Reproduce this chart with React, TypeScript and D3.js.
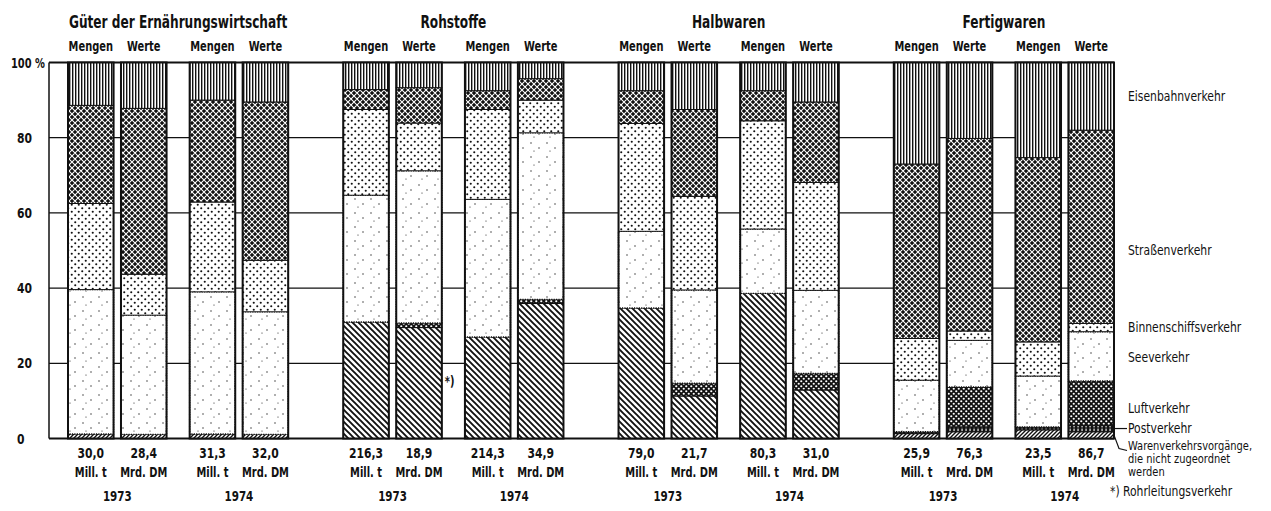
import React from "react";
import * as d3 from "d3";

const groups = ["Güter der Ernährungswirtschaft", "Rohstoffe", "Halbwaren", "Fertigwaren"];
const years = ["1973", "1974"];
const kinds = ["Mengen", "Werte"];
const units = ["Mill. t", "Mrd. DM"];
const totals = ["30,0", "28,4", "31,3", "32,0", "216,3", "18,9", "214,3", "34,9", "79,0", "21,7", "80,3", "31,0", "25,9", "76,3", "23,5", "86,7"];

// shares in %, bar order: group -> year -> kind
const waren = [1.2, 1.1, 1.2, 1.1, 0, 0, 0, 0, 0, 0, 0, 0, 1.3, 1.8, 2.3, 1.8];
const rohr = [0, 0, 0, 0, 31.0, 29.5, 27.0, 35.9, 34.7, 11.3, 38.6, 12.9, 0, 0, 0, 0];
const post = [0, 0, 0, 0, 0, 0, 0, 0, 0, 0, 0, 0, 0.5, 1.3, 0.8, 1.7];
const luft = [0, 0, 0, 0, 0, 1.2, 0, 1.1, 0, 3.4, 0, 4.4, 0, 10.6, 0, 11.8];
const see = [38.4, 31.7, 37.8, 32.6, 33.7, 40.5, 36.6, 44.3, 20.4, 24.8, 17.1, 22.1, 13.7, 12.4, 13.5, 13.1];
const binnen = [22.9, 10.9, 23.9, 13.7, 22.8, 12.7, 23.9, 8.7, 28.7, 24.9, 28.8, 28.7, 11.1, 2.5, 9.1, 2.2];
const strasse = [26.1, 44.1, 27.1, 42.1, 5.3, 9.4, 5.0, 5.7, 8.7, 23.1, 8.0, 21.4, 46.4, 51.2, 49.0, 51.4];
const eisenbahn = [11.4, 12.2, 10.0, 10.5, 7.2, 6.7, 7.5, 4.3, 7.5, 12.5, 7.5, 10.5, 27.0, 20.2, 25.3, 18.0];

const seriesKeys = ["waren", "rohr", "post", "luft", "see", "binnen", "strasse", "eisenbahn"];
const seriesValues = [waren, rohr, post, luft, see, binnen, strasse, eisenbahn];

const legendLabels = ["Eisenbahnverkehr", "Straßenverkehr", "Binnenschiffsverkehr", "Seeverkehr", "Luftverkehr"];
const legendAt = [91, 50, 29.4, 21.6, 8.1];
const postLabel = "Postverkehr";
const warenLabel = ["Warenverkehrsvorgänge,", "die nicht zugeordnet", "werden"];
const noteLabel = "*) Rohrleitungsverkehr";

const FONT = "'Liberation Sans Narrow', 'DejaVu Sans Condensed', 'Arial Narrow', sans-serif";

// text stretched vertically (condensed-looking print face)
function TallText(props: { x: number; y: number; size: number; bold?: boolean; anchor?: string; sy?: number; children: any }) {
  const { x, y, size, bold, anchor, sy = 1.2, children } = props;
  return (
    <text transform={`translate(${x},${y}) scale(1,${sy})`} textAnchor={anchor || "start"} fontSize={size}
      fontWeight={bold ? "bold" : "normal"} fill="#111">{children}</text>
  );
}

export default function App() {
  const W = 1271, H = 511;
  const y = d3.scaleLinear().domain([0, 100]).range([438.5, 62.5]);
  const gx = d3.scaleBand<string>().domain(groups).range([68, 1114]).paddingInner(0.2).paddingOuter(0);
  const yx = d3.scaleBand<string>().domain(years).range([0, gx.bandwidth()]).paddingInner(0.19).paddingOuter(0);
  const kx = d3.scaleBand<string>().domain(kinds).range([0, yx.bandwidth()]).paddingInner(0.14).paddingOuter(0);

  const bars = totals.map((t, i) => {
    const g = groups[Math.floor(i / 4)];
    const yr = years[Math.floor(i / 2) % 2];
    const k = kinds[i % 2];
    const row: any = { i, g, yr, k, total: t };
    seriesKeys.forEach((s, j) => (row[s] = seriesValues[j][i]));
    return row;
  });
  const stack = d3.stack<any>().keys(seriesKeys)(bars);
  const bx = (b: any) => (gx(b.g) as number) + (yx(b.yr) as number) + (kx(b.k) as number);
  const bw = kx.bandwidth();
  const x0 = 49;
  const xEnd = bx(bars[bars.length - 1]) + bw;
  const ticks = y.ticks(5);
  const last = bars[bars.length - 1];
  const lastRight = bx(last) + bw;
  const postMid = y(waren[15] + post[15] / 2);

  return (
    <svg width={W} height={H} style={{ position: "absolute", left: 0, top: 0, background: "#fff" }} fontFamily={FONT}>
      <defs>
        <pattern id="p-eisenbahn" width="3" height="10" patternUnits="userSpaceOnUse">
          <rect width="3" height="10" fill="#fff" />
          <rect x="0" width="1.4" height="10" fill="#111" />
        </pattern>
        <pattern id="p-strasse" width="6" height="6" patternUnits="userSpaceOnUse">
          <rect width="6" height="6" fill="#111" />
          <path d="M-3,3 L3,9 M0,0 L6,6 M3,-3 L9,3 M-3,3 L3,-3 M0,6 L6,0 M3,9 L9,3" stroke="#fff" strokeWidth="1.1" />
        </pattern>
        <pattern id="p-binnen" width="7" height="7" patternUnits="userSpaceOnUse">
          <rect width="7" height="7" fill="#fff" />
          <circle cx="1.75" cy="1.75" r="1.05" fill="#111" />
          <circle cx="5.25" cy="5.25" r="1.05" fill="#111" />
        </pattern>
        <pattern id="p-see" width="16" height="14" patternUnits="userSpaceOnUse">
          <rect width="16" height="14" fill="#fff" />
          <circle cx="3" cy="3" r="0.7" fill="#222" />
          <circle cx="11" cy="8" r="0.7" fill="#222" />
          <circle cx="6" cy="11" r="0.6" fill="#222" />
        </pattern>
        <pattern id="p-luft" width="5" height="5" patternUnits="userSpaceOnUse">
          <rect width="5" height="5" fill="#111" />
          <circle cx="1.25" cy="1.25" r="1.1" fill="#fff" />
          <circle cx="3.75" cy="3.75" r="1.1" fill="#fff" />
        </pattern>
        <pattern id="p-post" width="4" height="4" patternUnits="userSpaceOnUse">
          <rect width="4" height="4" fill="#111" />
          <rect x="1.5" y="0.6" width="1.1" height="2.8" fill="#fff" />
        </pattern>
        <pattern id="p-waren" width="4" height="4" patternUnits="userSpaceOnUse">
          <rect width="4" height="4" fill="#fff" />
          <path d="M0,4 L4,0 M-1,1 L1,-1 M3,5 L5,3" stroke="#111" strokeWidth="1.4" />
        </pattern>
        <pattern id="p-rohr" width="6" height="6" patternUnits="userSpaceOnUse">
          <rect width="6" height="6" fill="#fff" />
          <path d="M0,0 L6,6 M-1,5 L1,7 M5,-1 L7,1" stroke="#111" strokeWidth="1.9" />
        </pattern>
      </defs>

      {/* grid lines */}
      {ticks.map((t) => (
        <line key={"g" + t} x1={x0} x2={xEnd} y1={y(t)} y2={y(t)} stroke="#111" strokeWidth={t === 0 || t === 100 ? 2 : 1.3} />
      ))}
      <line x1={x0} x2={x0} y1={y(100)} y2={y(0)} stroke="#111" strokeWidth={1.5} />
      {ticks.map((t) => (
        <TallText key={"t" + t} x={t === 100 ? 11 : 17} y={y(t) + 5} size={t === 100 ? 11 : 12} bold>
          {t === 100 ? "100 %" : String(t)}
        </TallText>
      ))}

      {/* stacked bars */}
      {stack.map((layer) => (
        <g key={layer.key}>
          {layer.map((d: any, i: number) => {
            const h = y(d[0]) - y(d[1]);
            if (h <= 0) return null;
            const isSee = layer.key === "see";
            return (
              <rect key={i} x={bx(bars[i])} width={bw} y={y(d[1])} height={h}
                fill={`url(#p-${layer.key})`} stroke="#111"
                strokeWidth={isSee ? 1.4 : 1}
                strokeDasharray={isSee ? "1.2,1.2" : undefined} />
            );
          })}
        </g>
      ))}
      {bars.map((b) => (
        <rect key={"o" + b.i} x={bx(b)} width={bw} y={y(100)} height={y(0) - y(100)} fill="none" stroke="#111" strokeWidth={2} />
      ))}

      {/* headers */}
      {groups.map((g) => (
        <TallText key={g} x={(gx(g) as number) + gx.bandwidth() / 2} y={28} size={13.5} sy={1.25} bold anchor="middle">{g}</TallText>
      ))}
      {bars.map((b) => (
        <TallText key={"k" + b.i} x={bx(b) + bw / 2} y={51} size={11} bold anchor="middle">{b.k}</TallText>
      ))}
      {bars.map((b) => (
        <g key={"v" + b.i}>
          <TallText x={bx(b) + bw / 2} y={458} size={12} bold anchor="middle">{b.total}</TallText>
          <TallText x={bx(b) + bw / 2} y={477} size={11} bold anchor="middle">{units[kinds.indexOf(b.k)]}</TallText>
        </g>
      ))}
      {groups.map((g) => years.map((yr) => (
        <TallText key={g + yr} x={(gx(g) as number) + (yx(yr) as number) + yx.bandwidth() / 2} y={501} size={11.5} bold anchor="middle">{yr}</TallText>
      )))}

      {/* footnote marker */}
      <TallText x={bx(bars[5]) + bw + 3} y={y(15) + 4} size={11} bold>*)</TallText>

      {/* legend */}
      {legendLabels.map((l, i) => (
        <TallText key={l} x={1128} y={y(legendAt[i]) + 4.5} size={12}>{l}</TallText>
      ))}
      <line x1={lastRight} x2={1127} y1={postMid} y2={postMid} stroke="#111" strokeWidth={1.2} />
      <TallText x={1128} y={postMid + 4.5} size={12}>{postLabel}</TallText>
      <path d={`M${lastRight},${y(waren[15] / 2)} L${lastRight + 5},${y(0) + 10} L${lastRight + 13},${y(0) + 12}`} fill="none" stroke="#111" strokeWidth={1.2} />
      {warenLabel.map((l, i) => (
        <TallText key={l} x={1128} y={y(0) + 11 + i * 13} size={11} sy={1.05}>{l}</TallText>
      ))}
      <TallText x={1110} y={y(0) + 57} size={12}>{noteLabel}</TallText>
    </svg>
  );
}
